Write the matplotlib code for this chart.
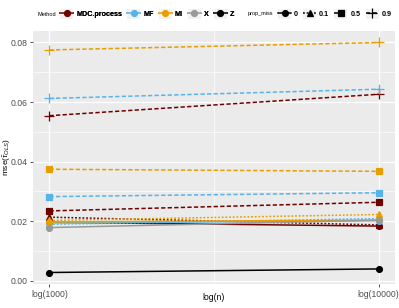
import numpy as np
import matplotlib
matplotlib.use("Agg")
import matplotlib.pyplot as plt
from matplotlib.lines import Line2D
from matplotlib.patches import Patch

plt.rcParams['font.family'] = ['Liberation Sans', 'DejaVu Sans']
plt.rcParams['mathtext.fontset'] = 'custom'
plt.rcParams['mathtext.rm'] = 'Liberation Sans'
plt.rcParams['mathtext.it'] = 'Liberation Sans:italic'

# data
n_vals = [1000, 10000]
x_labels = ['log(1000)', 'log(10000)']
methods = ['MDC.process', 'MF', 'MI', 'X', 'Z']
prop_levels = ['0', '0.1', '0.5', '0.9']

mdc_0 = [0.0196, 0.0183]
mdc_01 = [0.0213, 0.0187]
mdc_05 = [0.0234, 0.0263]
mdc_09 = [0.0554, 0.0626]
mf_0 = [0.0194, 0.0201]
mf_01 = [0.0189, 0.0208]
mf_05 = [0.0282, 0.0295]
mf_09 = [0.0612, 0.0643]
mi_0 = [0.0197, 0.0203]
mi_01 = [0.0202, 0.0222]
mi_05 = [0.0374, 0.0367]
mi_09 = [0.0775, 0.0800]
x_0 = [0.0178, 0.0203]
z_0 = [0.0027, 0.0039]

colors = {'MDC.process': '#6e0000', 'MF': '#56B4E9', 'MI': '#E69F00',
          'X': '#999999', 'Z': '#000000'}
markers = {'0': 'o', '0.1': '^', '0.5': 's', '0.9': '+'}
dashes = {'0': None, '0.1': (1.2, 1.2), '0.5': (2.8, 1.5), '0.9': (2.8, 1.5)}

series = [
    ('MDC.process', '0', mdc_0), ('MDC.process', '0.1', mdc_01),
    ('MDC.process', '0.5', mdc_05), ('MDC.process', '0.9', mdc_09),
    ('MF', '0', mf_0), ('MF', '0.1', mf_01), ('MF', '0.5', mf_05), ('MF', '0.9', mf_09),
    ('MI', '0', mi_0), ('MI', '0.1', mi_01), ('MI', '0.5', mi_05), ('MI', '0.9', mi_09),
    ('X', '0', x_0), ('Z', '0', z_0),
]

x = np.log(n_vals)

fig = plt.figure(figsize=(3.99, 3.08), dpi=100)
ax = fig.add_axes([33 / 399, 1 - 284 / 308, 362 / 399, 253 / 308])
ax.set_facecolor('#EBEBEB')
for s in ax.spines.values():
    s.set_visible(False)

for m, p, vals in series:
    ln, = ax.plot(x, vals, color=colors[m], lw=1.1, marker=markers[p],
                  ms=4.2 if p != '0.9' else 7, mew=0.9, zorder=3)
    if dashes[p] is not None:
        ln.set_dashes(dashes[p])

xr = x[1] - x[0]
ax.set_xlim(x[0] - 0.05 * xr, x[1] + 0.05 * xr)
lo, hi = 0.0027, 0.0800
ax.set_ylim(lo - 0.05 * (hi - lo), hi + 0.05 * (hi - lo))

ax.set_xticks(x)
ax.set_xticklabels(x_labels)
ax.set_xticks([x.mean()], minor=True)
ax.set_yticks([0, 0.02, 0.04, 0.06, 0.08])
ax.set_yticklabels(['0.00', '0.02', '0.04', '0.06', '0.08'])
ax.set_yticks([0.01, 0.03, 0.05, 0.07], minor=True)
ax.grid(True, which='major', color='white', lw=0.9, zorder=0)
ax.grid(True, which='minor', color='white', lw=0.45, zorder=0)
ax.set_axisbelow(True)
ax.tick_params(which='major', length=2.5, width=0.6, color='#333333',
               labelsize=6.2, labelcolor='#4D4D4D', pad=1.5)
ax.tick_params(which='minor', length=0)

fig.text(214 / 399, 1 - 297 / 308, 'log(n)', fontsize=6.2, ha='center', va='center')
fig.text(6.5 / 399, 1 - 157 / 308, r'mse($\hat{\tau}_{OLS}$)', fontsize=6.0,
         rotation=90, ha='center', va='center')

# legends on top
ty = 1 - 14 / 308
leg_kw = dict(frameon=False, prop={'weight': 'bold', 'size': 5.2},
              handlelength=1.8, handleheight=1.8, handletextpad=0.42,
              columnspacing=0.7, borderpad=0, borderaxespad=0)
fig.text(38 / 399, ty, 'Method', fontsize=4.0, va='center', ha='left')
h1 = [(Patch(facecolor='#F2F2F2', edgecolor='none'),
       Line2D([], [], color=colors[m], lw=1.1, marker='o', ms=4.2)) for m in methods]
leg1 = fig.legend(h1, methods, loc='center left', bbox_to_anchor=(60 / 399, ty),
                  ncol=5, **leg_kw)

fig.text(248 / 399, ty, 'prop_miss', fontsize=4.0, va='center', ha='left')
h2 = []
for p in prop_levels:
    ln = Line2D([], [], color='black', lw=1.1, marker=markers[p],
                ms=4.2 if p != '0.9' else 7, mew=0.9)
    if dashes[p] is not None:
        ln.set_dashes(dashes[p])
    h2.append((Patch(facecolor='#F2F2F2', edgecolor='none'), ln))
leg2 = fig.legend(h2, prop_levels, loc='center left', bbox_to_anchor=(278 / 399, ty),
                  ncol=4, **leg_kw)
fig.add_artist(leg1)

fig.savefig('out.png', dpi=100)
